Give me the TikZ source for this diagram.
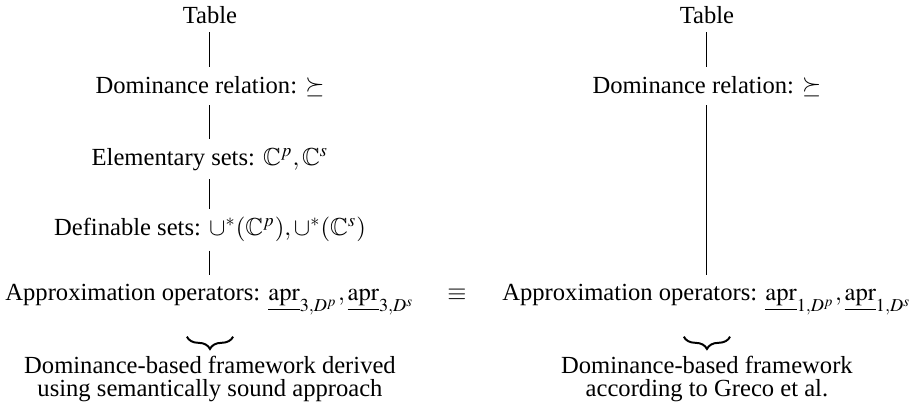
\documentclass[tikz,border=0pt]{standalone}
\usepackage{mathptmx}
\usepackage{amssymb}
\usepackage[no-math]{fontspec}
\setmainfont{Liberation Serif}
\usetikzlibrary{decorations.pathreplacing}

\begin{document}
\begin{tikzpicture}[
    lbl/.style={anchor=base},
    foot/.style={anchor=north, align=center, inner sep=0pt, font=\linespread{0.8}\selectfont},
    ubrace/.style={decorate, decoration={brace, mirror, amplitude=5pt}, line width=0.8pt}]
    \useasboundingbox (0,0) rectangle (13.13,-5.77);

    % semantically sound approach
    \node[lbl] (lt) at (3.0,-0.33) {Table};
    \node[lbl] (ld) at (3.0,-1.33) {Dominance relation: $\succeq$};
    \node[lbl] (le) at (3.0,-2.36) {Elementary sets: $\mathbb{C}^p, \mathbb{C}^s$};
    \node[lbl] (lf) at (3.0,-3.37) {Definable sets: $\cup^*(\mathbb{C}^p), \cup^*(\mathbb{C}^s)$};
    \node[lbl] (la) at (3.0,-4.29) {Approximation operators: $\underline{\mathrm{apr}}_{3,D^p}, \underline{\mathrm{apr}}_{3,D^s}$};

    \draw (lt) -- (ld);
    \draw (ld) -- (le);
    \draw (le) -- (lf);
    \draw (lf) -- (la);

    % Greco et al.
    \node[lbl] (rt) at (10.1,-0.33) {Table};
    \node[lbl] (rd) at (10.1,-1.33) {Dominance relation: $\succeq$};
    \node[lbl] (ra) at (10.1,-4.29) {Approximation operators: $\underline{\mathrm{apr}}_{1,D^p}, \underline{\mathrm{apr}}_{1,D^s}$};

    \draw (rt) -- (rd);
    \draw (rd) -- (ra);

    \node[lbl] (eq) at (6.53,-4.29) {$\equiv$};

    \draw[ubrace] (2.67,-4.81) -- (3.33,-4.81);
    \draw[ubrace] (9.77,-4.81) -- (10.43,-4.81);

    \node[foot] (lnote) at (3.0,-5.08) {Dominance-based framework derived\\using semantically sound approach};
    \node[foot] (rnote) at (10.1,-5.08) {Dominance-based framework\\according to Greco et al.};
\end{tikzpicture}
\end{document}
